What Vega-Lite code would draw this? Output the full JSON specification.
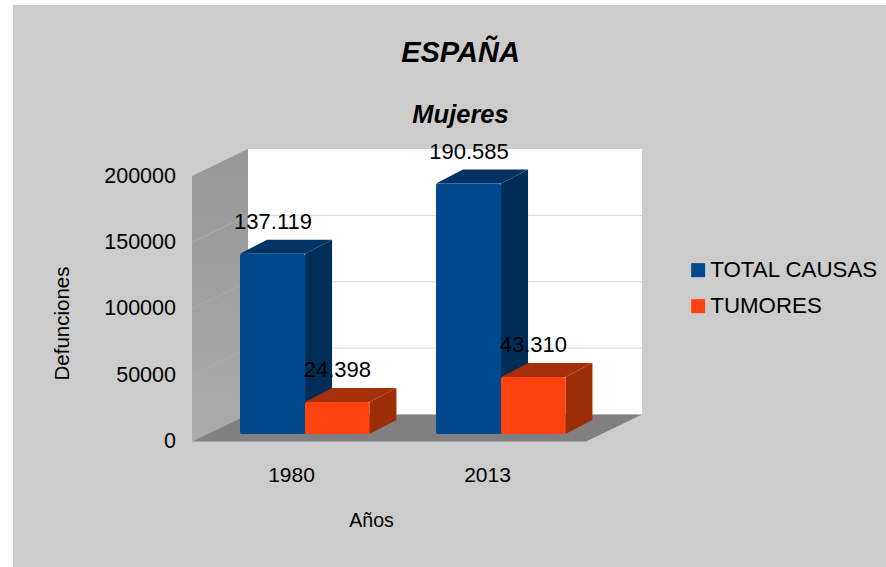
{
"$schema":"https://vega.github.io/schema/vega-lite/v6.json",
"width":873,"height":562,"autosize":"none",
"padding":{"left":13,"top":5,"right":0,"bottom":0},
"background":"#ffffff",
"view":{"fill":"#cccccc","stroke":null},
"config":{"font":"Liberation Sans"},
"resolve":{"axis":{"x":"independent","y":"independent"}},
"title":{"text":"ESPAÑA","subtitle":"Mujeres","frame":"group","anchor":"middle","dx":11,"offset":-123,"font":"Liberation Sans","fontSize":29,"fontStyle":"italic","fontWeight":"bold","color":"#000000","subtitleFont":"Liberation Sans","subtitleFontSize":25.5,"subtitleFontStyle":"italic","subtitleFontWeight":"bold","subtitleColor":"#000000","subtitlePadding":35},
"datasets":{
"barras":[
{"anio":1980,"serie":"TOTAL CAUSAS","valor":137119,"orden":0},
{"anio":1980,"serie":"TUMORES","valor":24398,"orden":1},
{"anio":2013,"serie":"TOTAL CAUSAS","valor":190585,"orden":0},
{"anio":2013,"serie":"TUMORES","valor":43310,"orden":1}],
"lineas":[{"v":50000},{"v":100000},{"v":150000}],
"fondo":[{"p":0},{"p":1}]
},
"layer":[
{"data":{"name":"fondo"},
 "transform":[{"calculate":"1963.33+datum.p*9.43","as":"xw"},{"calculate":"datum.p*20340","as":"y0"},{"calculate":"200000+datum.p*20340","as":"y1"}],
 "mark":{"type":"area","orient":"vertical","fill":{"gradient":"linear","x1":0,"y1":0,"x2":0,"y2":1,"stops":[{"offset":0,"color":"#979797"},{"offset":1,"color":"#ababab"}]}},
 "encoding":{
  "x":{"field":"xw","type":"quantitative","scale":{"domain":[1933.19,2080.18],"nice":false,"zero":false},
   "axis":{"values":[1980,2013],"format":"d","orient":"bottom","offset":-103,"domain":false,"ticks":false,"grid":false,"labelPadding":0,"labelFontSize":21,"labelColor":"#000000","labelBaseline":"top","title":"Años","titleFontSize":19.5,"titleFontWeight":"normal","titleColor":"#000000","titleX":358,"titleY":56,"titleBaseline":"middle","titleAnchor":"middle"}},
  "y":{"field":"y0","type":"quantitative","stack":null,"scale":{"domain":[-94539,328814],"nice":false,"zero":false},
   "axis":{"values":[0,50000,100000,150000,200000],"format":"d","orient":"left","offset":-162.5,"domain":false,"ticks":false,"grid":false,"labelPadding":0,"labelFontSize":21.5,"labelColor":"#000000","title":"Defunciones","titleFontSize":20.5,"titleFontWeight":"normal","titleColor":"#000000","titleX":-113,"titleY":318,"titleAngle":-90,"titleBaseline":"middle","titleAnchor":"middle"}},
  "y2":{"field":"y1"}}},
{"data":{"name":"fondo"},
 "transform":[{"filter":"datum.p==0"},{"calculate":"1972.76","as":"xa"},{"calculate":"2039.1","as":"xb"},{"calculate":"20340","as":"ya"},{"calculate":"220340","as":"yb"}],
 "mark":{"type":"rect","fill":"#ffffff"},
 "encoding":{
  "x":{"field":"xa","type":"quantitative","scale":{"domain":[1933.19,2080.18],"nice":false,"zero":false},"axis":null},
  "x2":{"field":"xb"},
  "y":{"field":"ya","type":"quantitative","scale":{"domain":[-94539,328814],"nice":false,"zero":false},"axis":null},
  "y2":{"field":"yb"}}},
{"data":{"name":"fondo"},
 "transform":[{"calculate":"datum.p*20340","as":"yf"},{"calculate":"1963.33+datum.p*9.43","as":"xa"},{"calculate":"2029.67+datum.p*9.43","as":"xb"}],
 "mark":{"type":"area","orient":"horizontal","fill":"#808080"},
 "encoding":{
  "y":{"field":"yf","type":"quantitative","scale":{"domain":[-94539,328814],"nice":false,"zero":false},"axis":null},
  "x":{"field":"xa","type":"quantitative","stack":null,"scale":{"domain":[1933.19,2080.18],"nice":false,"zero":false},"axis":null},
  "x2":{"field":"xb"}}},
{"data":{"name":"lineas"},
 "transform":[{"calculate":"1972.76","as":"xa"},{"calculate":"2039.1","as":"xb"},{"calculate":"datum.v+20340","as":"yg"}],
 "mark":{"type":"rule","color":"#d9d9d9","strokeWidth":1},
 "encoding":{
  "x":{"field":"xa","type":"quantitative","scale":{"domain":[1933.19,2080.18],"nice":false,"zero":false},"axis":null},
  "x2":{"field":"xb"},
  "y":{"field":"yg","type":"quantitative","scale":{"domain":[-94539,328814],"nice":false,"zero":false},"axis":null}}},
{"data":{"name":"lineas"},
 "transform":[{"calculate":"1963.33","as":"xa"},{"calculate":"1972.76","as":"xb"},{"calculate":"datum.v+20340","as":"yg"}],
 "mark":{"type":"rule","color":"#adadad","strokeWidth":1},
 "encoding":{
  "x":{"field":"xa","type":"quantitative","scale":{"domain":[1933.19,2080.18],"nice":false,"zero":false},"axis":null},
  "x2":{"field":"xb"},
  "y":{"field":"v","type":"quantitative","scale":{"domain":[-94539,328814],"nice":false,"zero":false},"axis":null},
  "y2":{"field":"yg"}}},
{"data":{"name":"barras"},
 "transform":[{"calculate":"[0,1]","as":"p"},{"flatten":["p"]},
  {"calculate":"datum.anio+(datum.orden==0?2.36:13.2)+datum.p*4.55","as":"xs"},
  {"calculate":"5650+datum.p*10546","as":"ys0"},
  {"calculate":"5650+datum.valor*0.99+datum.p*10546","as":"ys1"},
  {"calculate":"datum.anio+'-'+datum.serie","as":"clave"}],
 "mark":{"type":"area","orient":"vertical"},
 "encoding":{
  "x":{"field":"xs","type":"quantitative","scale":{"domain":[1933.19,2080.18],"nice":false,"zero":false},"axis":null},
  "y":{"field":"ys0","type":"quantitative","stack":null,"scale":{"domain":[-94539,328814],"nice":false,"zero":false},"axis":null},
  "y2":{"field":"ys1"},
  "detail":{"field":"clave"},
  "color":{"condition":{"test":"datum.serie=='TUMORES'","value":"#9d2c08"},"value":"#002d58"}}},
{"data":{"name":"barras"},
 "transform":[{"calculate":"[0,1]","as":"p"},{"flatten":["p"]},
  {"calculate":"datum.anio+(datum.orden==0?-8.59:2.36)+datum.p*4.55","as":"xa"},
  {"calculate":"datum.anio+(datum.orden==0?2.36:13.2)+datum.p*4.55","as":"xb"},
  {"calculate":"5650+datum.valor*0.99+datum.p*10546","as":"yt"},
  {"calculate":"datum.anio+'-'+datum.serie","as":"clave"}],
 "mark":{"type":"area","orient":"horizontal"},
 "encoding":{
  "y":{"field":"yt","type":"quantitative","scale":{"domain":[-94539,328814],"nice":false,"zero":false},"axis":null},
  "x":{"field":"xa","type":"quantitative","stack":null,"scale":{"domain":[1933.19,2080.18],"nice":false,"zero":false},"axis":null},
  "x2":{"field":"xb"},
  "detail":{"field":"clave"},
  "color":{"condition":{"test":"datum.serie=='TUMORES'","value":"#a52f08"},"value":"#003465"}}},
{"data":{"name":"barras"},
 "transform":[
  {"calculate":"datum.anio+(datum.orden==0?-8.59:2.36)","as":"xa"},
  {"calculate":"datum.anio+(datum.orden==0?2.36:13.2)","as":"xb"},
  {"calculate":"5650","as":"yb"},
  {"calculate":"5650+datum.valor*0.99","as":"yt"}],
 "mark":{"type":"rect","cornerRadius":2},
 "encoding":{
  "x":{"field":"xa","type":"quantitative","scale":{"domain":[1933.19,2080.18],"nice":false,"zero":false},"axis":null},
  "x2":{"field":"xb"},
  "y":{"field":"yb","type":"quantitative","scale":{"domain":[-94539,328814],"nice":false,"zero":false},"axis":null},
  "y2":{"field":"yt"},
  "color":{"field":"serie","type":"nominal","scale":{"domain":["TOTAL CAUSAS","TUMORES"],"range":["#00498c","#ff420e"]},
   "legend":{"title":null,"orient":"none","legendX":674,"legendY":254,"symbolType":"square","symbolSize":196,"symbolOpacity":1,"symbolStrokeWidth":0,"labelFontSize":22.3,"labelColor":"#000000","labelOffset":1,"rowPadding":13,"labelLimit":300}}}},
{"data":{"name":"barras"},
 "transform":[
  {"calculate":"datum.anio+(datum.orden==0?-3.03:7.8)","as":"xl"},
  {"calculate":"5650+datum.valor*0.99+24000","as":"yl"},
  {"calculate":"replace(format(datum.valor,','),',','.')","as":"etiqueta"}],
 "mark":{"type":"text","fontSize":22,"color":"#000000","baseline":"middle","align":"center"},
 "encoding":{
  "x":{"field":"xl","type":"quantitative","scale":{"domain":[1933.19,2080.18],"nice":false,"zero":false},"axis":null},
  "y":{"field":"yl","type":"quantitative","scale":{"domain":[-94539,328814],"nice":false,"zero":false},"axis":null},
  "text":{"field":"etiqueta"}}}
]
}
